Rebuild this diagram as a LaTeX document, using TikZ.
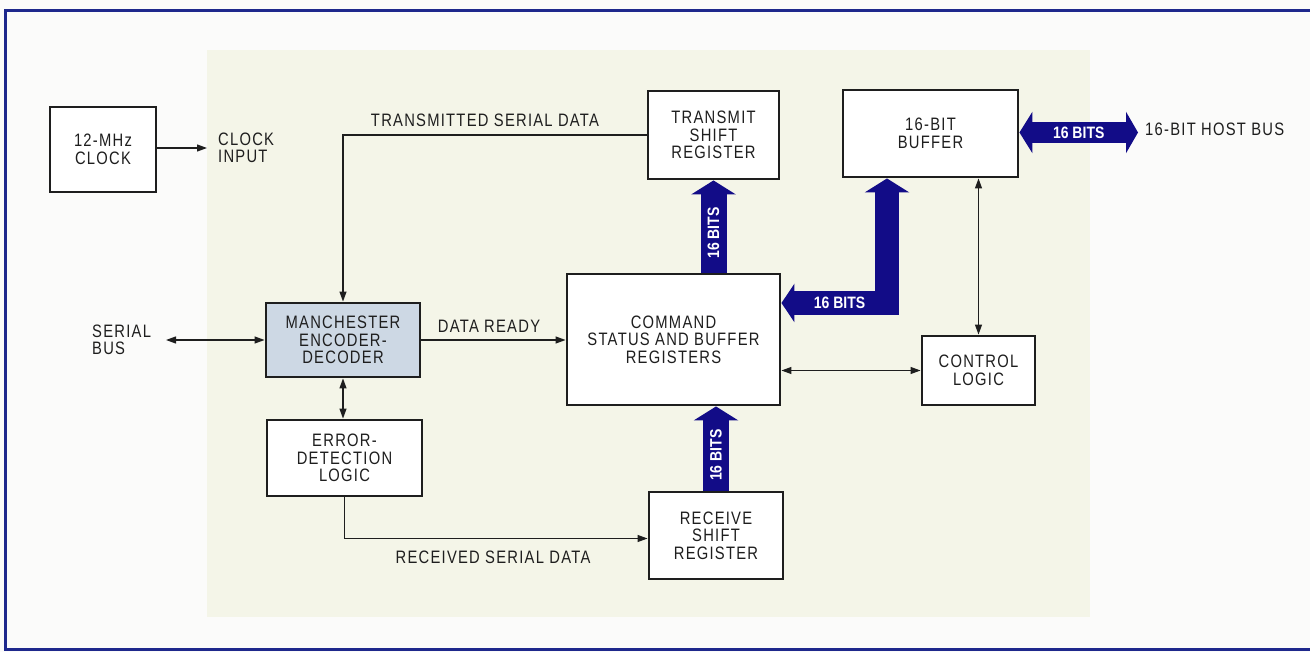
\documentclass[tikz,border=0pt]{standalone}
\usepackage{fontspec}
\setmainfont{Liberation Sans}[FakeStretch=0.82,LetterSpace=7]
\newfontfamily\bitsfont{Liberation Sans}[FakeStretch=0.85]
\usetikzlibrary{arrows.meta,calc}
\definecolor{frameblue}{RGB}{30,40,140}
\definecolor{busblue}{RGB}{18,12,135}
\definecolor{panel}{RGB}{244,245,232}
\definecolor{paper}{RGB}{251,251,250}
\definecolor{manfill}{RGB}{205,216,228}
\definecolor{ink}{RGB}{30,30,30}
\tikzset{
  box/.style={draw=ink, line width=2.9pt, fill=white, align=center, text=ink,
    font=\fontsize{18}{17.5}\selectfont, inner sep=0pt},
  lbl/.style={align=center, text=ink, font=\fontsize{18}{17.5}\selectfont, inner sep=0pt},
  arr/.style={draw=ink, line width=1.2pt, -{Triangle[length=10pt,width=7pt]}},
  darr/.style={draw=ink, line width=1.2pt, {Triangle[length=10pt,width=7pt]}-{Triangle[length=10pt,width=7pt]}},
  bus/.style={draw=busblue, line width=26pt, line join=miter, line cap=butt},
  bits/.style={text=white, font=\bitsfont\bfseries\fontsize{16.5}{16.5}\selectfont, inner sep=0pt}
}
\begin{document}
\begin{tikzpicture}[x=1pt,y=-1pt]
\useasboundingbox (0,0) rectangle (1310,652);
\fill[paper] (0,0) rectangle (1310,652);
\fill[panel] (207,50) rectangle (1090,617);
\draw[frameblue, line width=3pt] (1310,11) -- (5,11) -- (5,649) -- (1310,649);

% boxes
\node[box, minimum width=106pt, minimum height=85pt] (clk) at (103,149.5) {12-MHz\\CLOCK};
\node[box, minimum width=131pt, minimum height=88pt] (tsr) at (713.5,135) {TRANSMIT\\SHIFT\\REGISTER};
\node[box, minimum width=175pt, minimum height=87pt] (buf) at (930.5,133.5) {16-BIT\\BUFFER};
\node[box, minimum width=213pt, minimum height=131pt] (csr) at (673.5,339.5) {COMMAND\\STATUS AND BUFFER\\REGISTERS};
\node[box, minimum width=134pt, minimum height=87pt] (rsr) at (716,535.5) {RECEIVE\\SHIFT\\REGISTER};
\node[box, minimum width=113pt, minimum height=69pt] (ctl) at (978.5,370.5) {CONTROL\\LOGIC};
\node[box, fill=manfill, minimum width=154pt, minimum height=74pt] (man) at (343,340) {MANCHESTER\\ENCODER-\\DECODER};
\node[box, minimum width=155pt, minimum height=76pt] (err) at (344.5,458) {ERROR-\\DETECTION\\LOGIC};

% free labels
\node[lbl, anchor=west, align=left] (clkinl) at (218,148) {CLOCK\\INPUT};
\node[lbl, anchor=west, align=left] (serl) at (92,340) {SERIAL\\BUS};
\node[lbl] (txl) at (485,120) {TRANSMITTED SERIAL DATA};
\node[lbl] (drl) at (489,326) {DATA READY};
\node[lbl] (rxl) at (493,557) {RECEIVED SERIAL DATA};
\node[lbl, anchor=west] (hostl) at (1145,129) {16-BIT HOST BUS};

% coordinates for free ends
\coordinate (clkin) at (207,148);
\coordinate (sb) at (166,340);
\coordinate (bend) at (887,303);
\coordinate (host) at (1138,132.5);

% thin connectors
\draw[arr] (clk.east |- clkin) -- (clkin);
\draw[arr] (tsr.west) -- (tsr.west -| man.north) -- (man.north);
\draw[arr] (man.east) -- (man.east -| csr.west);
\draw[darr] (sb) -- (man.west);
\draw[darr] (man.south) -- (man.south |- err.north);
\draw[arr] (err.south) -- ($(err.south |- rsr.west)+(0,3)$) -- ($(rsr.west)+(0,3)$);
\draw[darr] (csr.east |- ctl.west) -- (ctl.west);
\draw[darr] (ctl.north) -- (ctl.north |- buf.south);

% buses
\draw[bus, -{Triangle[length=14pt,width=44pt]}] (tsr.south |- csr.north) -- node[bits, pos=0.43, rotate=90] (bT) {16 BITS} (tsr.south);
\draw[bus, -{Triangle[length=14pt,width=44pt]}] (rsr.north) -- node[bits, pos=0.42, rotate=90] (bR) {16 BITS} (rsr.north |- csr.south);
\draw[bus, line width=24pt, {Triangle[length=13pt,width=38pt]}-{Triangle[length=14pt,width=44pt]}] (csr.east |- bend) -- node[bits, pos=0.55] (bL) {16 BITS} (bend) -- (bend |- buf.south);
\draw[bus, line width=21pt, {Triangle[length=13pt,width=41pt]}-{Triangle[length=12pt,width=41pt]}] (buf.east |- host) -- node[bits, pos=0.5] (bH) {16 BITS} (host);
\end{tikzpicture}
\end{document}
